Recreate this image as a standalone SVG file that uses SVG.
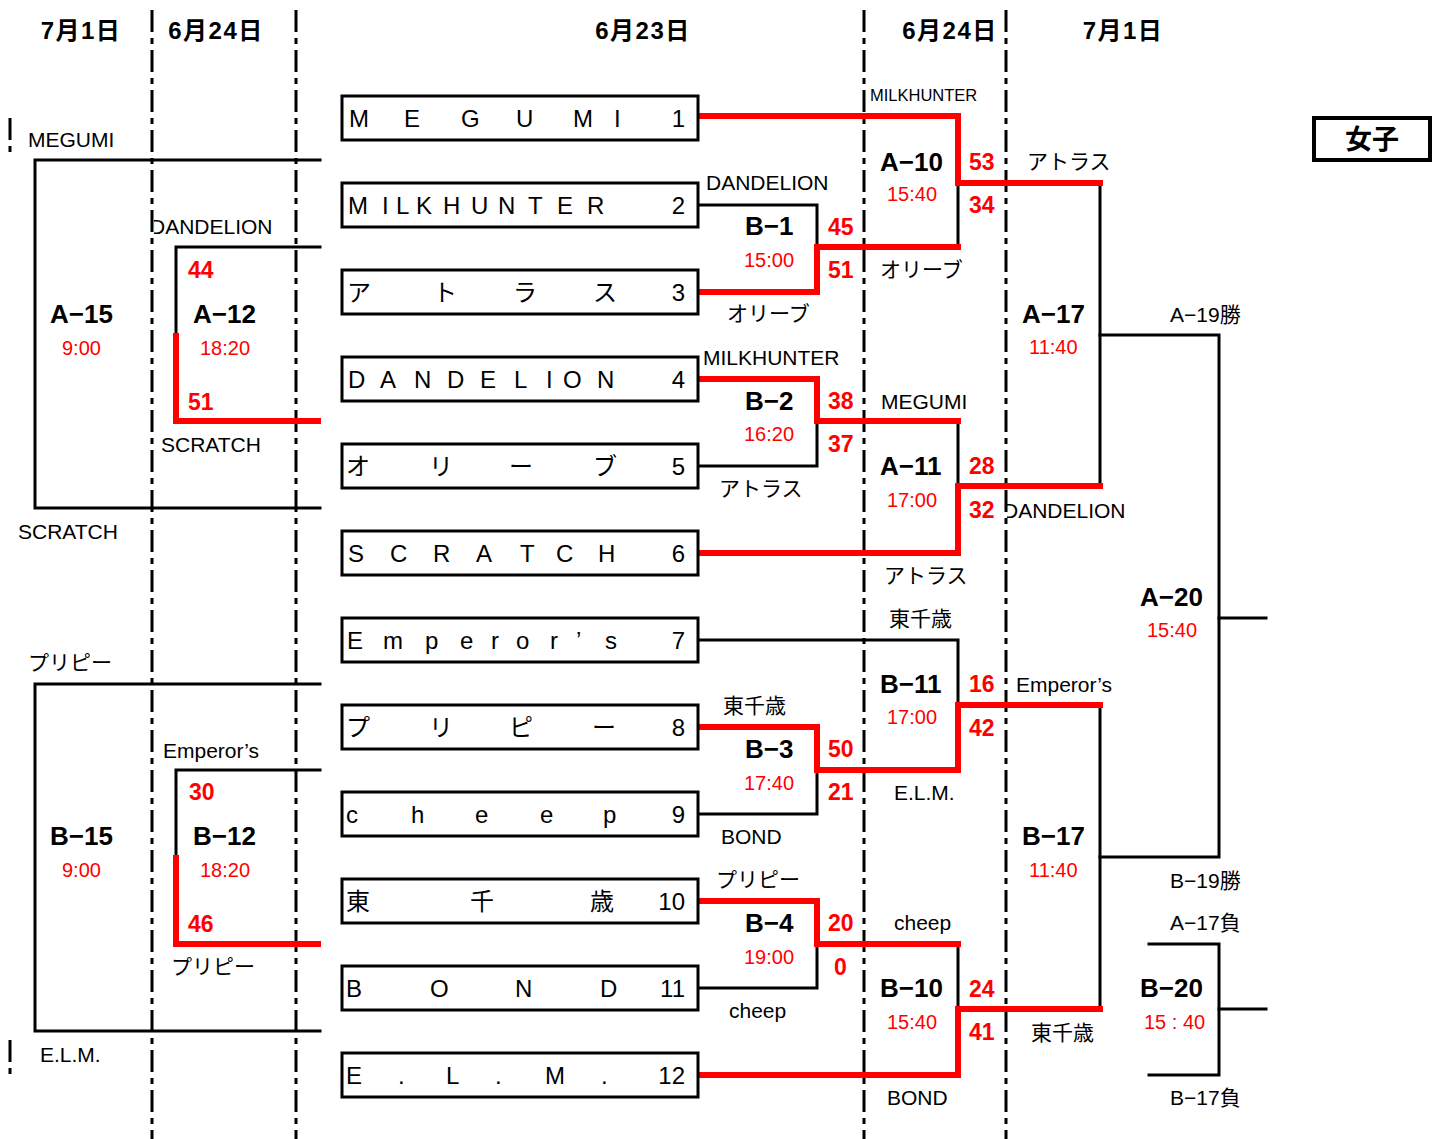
<svg xmlns="http://www.w3.org/2000/svg" width="1432" height="1139" viewBox="0 0 1432 1139">
<style>
text{font-family:"Liberation Sans","Noto Sans CJK JP",sans-serif;fill:#000}
.hd{font-size:24px;font-weight:bold;text-anchor:middle;letter-spacing:1.5px}
.tb{font-size:24px}
.num{font-size:24px;text-anchor:end}
.mt{font-size:26px;font-weight:bold}
.tm{font-size:20px;fill:#f00}
.sc{font-size:23px;font-weight:bold;fill:#f00}
.nm{font-size:21px}
.sm{font-size:16.5px}
.box{fill:#fff;stroke:#000;stroke-width:3}
.dash{stroke:#000;stroke-width:3;stroke-dasharray:22 6 6 6;fill:none}
.bk{stroke:#000;stroke-width:3;fill:none;stroke-linecap:square}
.rd{stroke:#f00;stroke-width:6;fill:none;stroke-linecap:square}
</style>
<defs>
<clipPath id="c1"><rect x="154" y="200" width="118" height="50"/></clipPath>
<clipPath id="c2"><rect x="700" y="340" width="141" height="40"/></clipPath>
<clipPath id="c3"><rect x="1007" y="490" width="118" height="40"/></clipPath>
</defs>
<rect width="1432" height="1139" fill="#fff"/>
<g id="gridlines">
<line class="dash" x1="152" y1="10" x2="152" y2="1139"/>
<line class="dash" x1="296" y1="10" x2="296" y2="1139"/>
<line class="dash" x1="864" y1="10" x2="864" y2="1139"/>
<line class="dash" x1="1006" y1="10" x2="1006" y2="1139"/>
<line class="dash" x1="10" y1="118" x2="10" y2="155"/>
<line class="dash" x1="10" y1="1040" x2="10" y2="1075"/>
</g>
<g id="headers">
<text class="hd" x="81" y="39">7月1日</text>
<text class="hd" x="216" y="39">6月24日</text>
<text class="hd" x="643" y="39">6月23日</text>
<text class="hd" x="950" y="39">6月24日</text>
<text class="hd" x="1123" y="39">7月1日</text>
</g>
<g id="title">
<rect x="1314" y="118" width="116" height="42" fill="#fff" stroke="#000" stroke-width="4"/>
<text x="1372" y="149" style="font-size:27px;font-weight:bold;text-anchor:middle">女子</text>
</g>
<g id="connectors">
<path class="bk" d="M320,160 H35 V508 H320"/>
<path class="bk" d="M320,247 H176 V335"/>
<path class="bk" d="M320,684 H35 V1031 H320"/>
<path class="bk" d="M320,770 H176 V857"/>
<path class="bk" d="M698,205 H817 V247"/>
<path class="bk" d="M958,247 V183"/>
<path class="bk" d="M698,466 H817 V421"/>
<path class="bk" d="M958,421 V486"/>
<path class="bk" d="M1100,183 V486"/>
<path class="bk" d="M1100,335 H1219 V857 H1100"/>
<path class="bk" d="M1219,618 H1266"/>
<path class="bk" d="M698,640 H958 V705"/>
<path class="bk" d="M698,814 H817 V770"/>
<path class="bk" d="M698,988 H817 V944"/>
<path class="bk" d="M958,944 V1009"/>
<path class="bk" d="M1100,705 V1009"/>
<path class="bk" d="M1149,944 H1219 V1075 H1149"/>
<path class="bk" d="M1219,1009 H1266"/>
<path class="rd" d="M176,336 V421 H318"/>
<path class="rd" d="M176,858 V944 H318"/>
<path class="rd" d="M701,116 H958 V183 H1100"/>
<path class="rd" d="M701,292 H817 V247 H958"/>
<path class="rd" d="M701,379 H817 V421 H958"/>
<path class="rd" d="M701,553 H958 V486 H1100"/>
<path class="rd" d="M701,727 H817 V770 H958 V705 H1100"/>
<path class="rd" d="M701,901 H817 V944 H958"/>
<path class="rd" d="M701,1075 H958 V1009 H1100"/>
</g>
<g id="team-1"><rect class="box" x="342" y="96" width="356" height="44"/><text class="tb" x="349 404 461 516 573 614" y="127">MEGUMI</text><text class="num" x="685" y="127">1</text></g>
<g id="team-2"><rect class="box" x="342" y="183" width="356" height="44"/><text class="tb" x="348 382 396 416 443 471 498 528 557 587" y="214">MILKHUNTER</text><text class="num" x="685" y="214">2</text></g>
<g id="team-3"><rect class="box" x="342" y="270" width="356" height="44"/><text class="tb" x="347 433 513 593" y="301">アトラス</text><text class="num" x="685" y="301">3</text></g>
<g id="team-4"><rect class="box" x="342" y="357" width="356" height="44"/><text class="tb" x="348 380 414 447 480 514 546 563 597" y="388">DANDELION</text><text class="num" x="685" y="388">4</text></g>
<g id="team-5"><rect class="box" x="342" y="444" width="356" height="44"/><text class="tb" x="346 429 509 593" y="475">オリーブ</text><text class="num" x="685" y="475">5</text></g>
<g id="team-6"><rect class="box" x="342" y="531" width="356" height="44"/><text class="tb" x="348 390 433 476 520 556 598" y="562">SCRATCH</text><text class="num" x="685" y="562">6</text></g>
<g id="team-7"><rect class="box" x="342" y="618" width="356" height="44"/><text class="tb" x="347 383 425 460 491 516 550 576 605" y="649">Emperor’s</text><text class="num" x="685" y="649">7</text></g>
<g id="team-8"><rect class="box" x="342" y="705" width="356" height="44"/><text class="tb" x="346 429 509 592" y="736">プリピー</text><text class="num" x="685" y="736">8</text></g>
<g id="team-9"><rect class="box" x="342" y="792" width="356" height="44"/><text class="tb" x="346 411 475 540 603" y="823">cheep</text><text class="num" x="685" y="823">9</text></g>
<g id="team-10"><rect class="box" x="342" y="879" width="356" height="44"/><text class="tb" x="346 470 590" y="910">東千歳</text><text class="num" x="685" y="910">10</text></g>
<g id="team-11"><rect class="box" x="342" y="966" width="356" height="44"/><text class="tb" x="346 430 515 600" y="997">BOND</text><text class="num" x="685" y="997">11</text></g>
<g id="team-12"><rect class="box" x="342" y="1053" width="356" height="44"/><text class="tb" x="346 398 446 495 545 601" y="1084">E.L.M.</text><text class="num" x="685" y="1084">12</text></g>
<g id="match-A15"><text class="nm" x="28" y="147">MEGUMI</text><text class="mt" x="50" y="323">A−15</text><text class="tm" x="62" y="355">9:00</text><text class="nm" x="18" y="539">SCRATCH</text></g>
<g id="match-A12"><text class="nm" x="150" y="234" clip-path="url(#c1)">DANDELION</text><text class="sc" x="188" y="278">44</text><text class="mt" x="193" y="323">A−12</text><text class="tm" x="200" y="355">18:20</text><text class="sc" x="188" y="410">51</text><text class="nm" x="161" y="452">SCRATCH</text></g>
<g id="match-B15"><text class="nm" x="28" y="670">プリピー</text><text class="mt" x="50" y="845">B−15</text><text class="tm" x="62" y="877">9:00</text><text class="nm" x="40" y="1062">E.L.M.</text></g>
<g id="match-B12"><text class="nm" x="163" y="758">Emperor’s</text><text class="sc" x="189" y="800">30</text><text class="mt" x="193" y="845">B−12</text><text class="tm" x="200" y="877">18:20</text><text class="sc" x="188" y="932">46</text><text class="nm" x="171" y="974">プリピー</text></g>
<g id="match-B1"><text class="nm" x="706" y="190">DANDELION</text><text class="mt" x="745" y="235">B−1</text><text class="tm" x="744" y="267">15:00</text><text class="sc" x="828" y="235">45</text><text class="sc" x="828" y="278">51</text><text class="nm" x="727" y="321">オリーブ</text></g>
<g id="match-A10"><text class="sm" x="870" y="101">MILKHUNTER</text><text class="mt" x="880" y="171">A−10</text><text class="tm" x="887" y="201">15:40</text><text class="sc" x="969" y="170">53</text><text class="sc" x="969" y="213">34</text><text class="nm" x="880" y="277">オリーブ</text></g>
<g id="match-B2"><text class="nm" x="703" y="365" clip-path="url(#c2)">MILKHUNTER</text><text class="mt" x="745" y="410">B−2</text><text class="tm" x="744" y="441">16:20</text><text class="sc" x="828" y="409">38</text><text class="sc" x="828" y="452">37</text><text class="nm" x="719" y="496">アトラス</text></g>
<g id="match-A11"><text class="nm" x="881" y="409">MEGUMI</text><text class="mt" x="880" y="475">A−11</text><text class="tm" x="887" y="507">17:00</text><text class="sc" x="969" y="474">28</text><text class="sc" x="969" y="518">32</text><text class="nm" x="884" y="583">アトラス</text></g>
<g id="match-A17"><text class="nm" x="1027" y="169">アトラス</text><text class="mt" x="1022" y="323">A−17</text><text class="tm" x="1029" y="354">11:40</text><text class="nm" x="1003" y="518" clip-path="url(#c3)">DANDELION</text></g>
<g id="match-A20"><text class="nm" x="1170" y="322">A−19勝</text><text class="mt" x="1140" y="606">A−20</text><text class="tm" x="1147" y="637">15:40</text><text class="nm" x="1170" y="888">B−19勝</text></g>
<g id="match-B11"><text class="nm" x="889" y="626">東千歳</text><text class="mt" x="880" y="693">B−11</text><text class="tm" x="887" y="724">17:00</text><text class="sc" x="969" y="692">16</text><text class="sc" x="969" y="736">42</text><text class="nm" x="894" y="800">E.L.M.</text></g>
<g id="match-B3"><text class="nm" x="723" y="713">東千歳</text><text class="mt" x="745" y="758">B−3</text><text class="tm" x="744" y="790">17:40</text><text class="sc" x="828" y="757">50</text><text class="sc" x="828" y="800">21</text><text class="nm" x="721" y="844">BOND</text></g>
<g id="match-B17"><text class="nm" x="1016" y="692">Emperor’s</text><text class="mt" x="1022" y="845">B−17</text><text class="tm" x="1029" y="877">11:40</text><text class="nm" x="1031" y="1040">東千歳</text></g>
<g id="match-B4"><text class="nm" x="716" y="887">プリピー</text><text class="mt" x="745" y="932">B−4</text><text class="tm" x="744" y="964">19:00</text><text class="sc" x="828" y="931">20</text><text class="sc" x="834" y="975">0</text><text class="nm" x="729" y="1018">cheep</text></g>
<g id="match-B10"><text class="nm" x="894" y="930">cheep</text><text class="mt" x="880" y="997">B−10</text><text class="tm" x="887" y="1029">15:40</text><text class="sc" x="969" y="997">24</text><text class="sc" x="969" y="1040">41</text><text class="nm" x="887" y="1105">BOND</text></g>
<g id="match-B20"><text class="nm" x="1170" y="930">A−17負</text><text class="mt" x="1140" y="997">B−20</text><text class="tm" x="1144" y="1029">15 : 40</text><text class="nm" x="1170" y="1105">B−17負</text></g>
</svg>
